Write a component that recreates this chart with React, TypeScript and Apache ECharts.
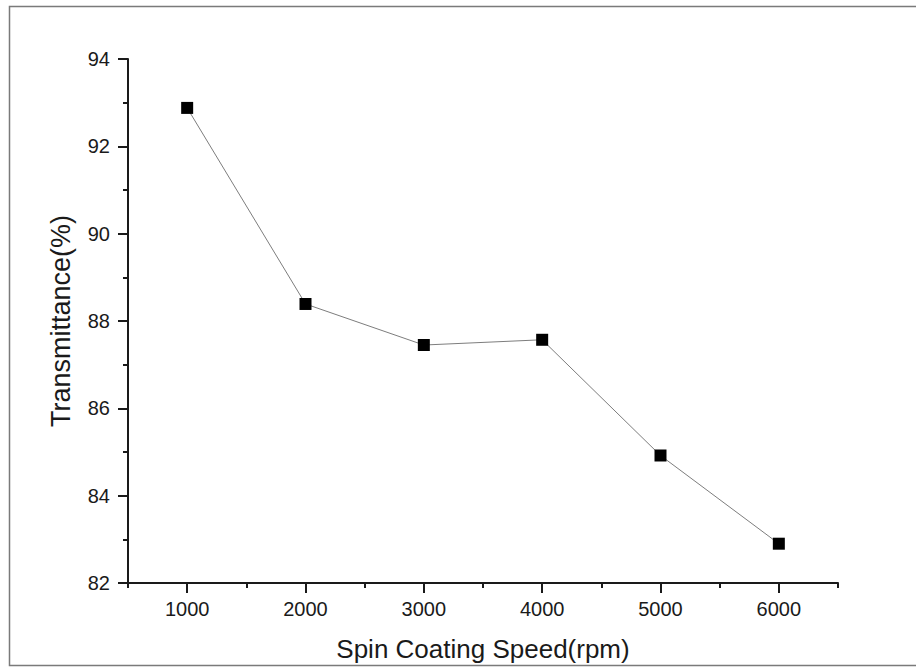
import React, { useEffect, useRef } from "react";
import * as echarts from "echarts";

const speeds = [1000, 2000, 3000, 4000, 5000, 6000];
const transmittance = [92.88, 88.39, 87.45, 87.57, 84.92, 82.9];
const xMajorTicks = [1000, 2000, 3000, 4000, 5000, 6000];
const xMinorTicks = [500, 1500, 2500, 3500, 4500, 5500, 6500];
const xTitle = "Spin Coating Speed(rpm)";
const yTitle = "Transmittance(%)";

const FONT = "Liberation Sans, Arial, sans-serif";
const AXIS_COLOR = "#1a1a1a";

export default function App() {
  const ref = useRef<HTMLDivElement>(null);
  useEffect(() => {
    if (!ref.current) return;
    const chart = echarts.init(ref.current, undefined, { renderer: "svg" });
    const data = speeds.map((s, i) => [s, transmittance[i]]);
    chart.setOption({
      animation: false,
      backgroundColor: "#ffffff",
      textStyle: { fontFamily: FONT },
      graphic: [
        {
          type: "rect",
          shape: { x: 9.5, y: 6.5, width: 1000, height: 659 },
          style: { fill: "none", stroke: "#7a7a7a", lineWidth: 1.5 },
          silent: true,
        },
      ],
      grid: { left: 128, right: 78, top: 59, bottom: 80, containLabel: false },
      xAxis: [
        {
          type: "value",
          position: "bottom",
          min: 500,
          max: 6500,
          name: xTitle,
          nameLocation: "middle",
          nameGap: 53,
          nameTextStyle: { fontSize: 26, color: AXIS_COLOR, fontFamily: FONT },
          axisLine: { show: true, onZero: false, lineStyle: { color: AXIS_COLOR, width: 2 } },
          axisTick: {
            show: true,
            inside: false,
            length: 10,
            customValues: xMajorTicks,
            lineStyle: { color: AXIS_COLOR, width: 2 },
          },
          axisLabel: {
            show: true,
            customValues: xMajorTicks,
            margin: 16,
            fontSize: 20,
            color: AXIS_COLOR,
            fontFamily: FONT,
            formatter: (v: number) => String(v),
          },
          splitLine: { show: false },
        },
        {
          type: "value",
          position: "bottom",
          min: 500,
          max: 6500,
          axisLine: { show: false, onZero: false },
          axisTick: {
            show: true,
            inside: false,
            length: 5,
            customValues: xMinorTicks,
            lineStyle: { color: AXIS_COLOR, width: 2 },
          },
          axisLabel: { show: false },
          splitLine: { show: false },
        },
      ],
      yAxis: {
        type: "value",
        min: 82,
        max: 94,
        interval: 2,
        name: yTitle,
        nameLocation: "middle",
        nameGap: 54,
        nameRotate: 90,
        nameTextStyle: { fontSize: 27, color: AXIS_COLOR, fontFamily: FONT },
        axisLine: { show: true, onZero: false, lineStyle: { color: AXIS_COLOR, width: 2 } },
        axisTick: { show: true, inside: false, length: 10, lineStyle: { color: AXIS_COLOR, width: 2 } },
        minorTick: { show: true, splitNumber: 2, length: 5, lineStyle: { color: AXIS_COLOR, width: 2 } },
        axisLabel: { margin: 18, fontSize: 20, color: AXIS_COLOR, fontFamily: FONT },
        splitLine: { show: false },
        minorSplitLine: { show: false },
      },
      series: [
        {
          type: "line",
          xAxisIndex: 0,
          yAxisIndex: 0,
          data,
          symbol: "rect",
          symbolSize: 12,
          showSymbol: true,
          itemStyle: { color: "#000000" },
          lineStyle: { color: "#7d7d7d", width: 1 },
        },
      ],
    });
    return () => chart.dispose();
  }, []);
  return (
    <div
      ref={ref}
      style={{ position: "absolute", left: 0, top: 0, width: 916, height: 667 }}
    />
  );
}
